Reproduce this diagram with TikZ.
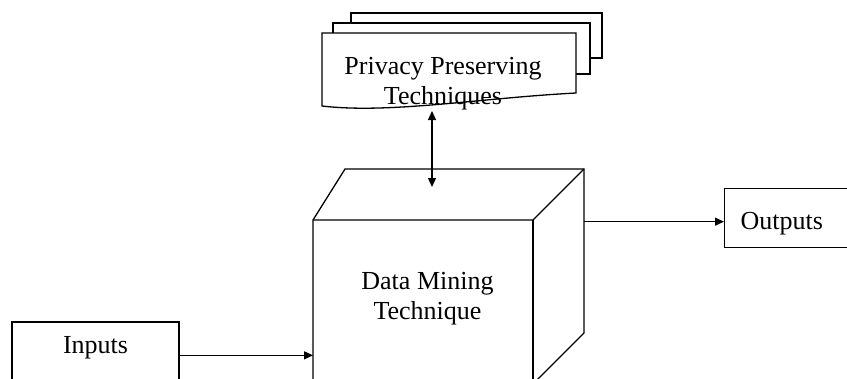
\documentclass[tikz,border=0pt]{standalone}
\usepackage{fontspec}
\setmainfont{Liberation Serif}
\usetikzlibrary{arrows.meta,calc}
\begin{document}
\begin{tikzpicture}[x=1pt,y=-1pt,
  line/.style={line width=1.3pt, draw=black},
  doc/.style={line, fill=white},
  txt/.style={font=\fontsize{26}{30}\selectfont, align=center, inner sep=0pt},
  arr/.style={line, -{Triangle[length=9pt,width=8pt]}},
  darr/.style={line, {Triangle[length=9pt,width=8pt]}-{Triangle[length=9pt,width=8pt]}}]
\useasboundingbox (0,0) rectangle (847,378);
\fill[white] (0,0) rectangle (847,378);
% privacy preserving stack
\draw[doc] (351,13) rectangle (602,58);
\draw[doc] (333,23) rectangle (590,74);
\draw[doc] (322,33) -- (576,33) -- (576,93) .. controls (480,98) and (390,114) .. (322,106) -- cycle;
\node[txt] (pp) at (443,84) {Privacy Preserving\\Techniques};
% cube
\coordinate (fl) at (313,220);
\coordinate (fr) at (533,220);
\coordinate (bl) at (345,169);
\coordinate (br) at (584,169);
\coordinate (brb) at (584,333);
\coordinate (frb) at (533,384);
\coordinate (flb) at (313,400);
\coordinate (frbb) at (533,400);
\draw[line, line join=miter] (flb) -- (fl) -- (bl) -- (br) -- (brb) -- (frb);
\draw[line] (fl) -- (fr) -- (br);
\draw[line] (fr) -- (frbb);
\node[txt] (dm) at (427.5,299) {Data Mining\\Technique};
% inputs
\node[line, font=\fontsize{26}{30}\selectfont, inner sep=0pt, text height=31pt, text depth=60pt,
      minimum width=167pt, anchor=base] (inputs) at (95.5,353) {Inputs};
% outputs
\node[line, font=\fontsize{26}{30}\selectfont, inner ysep=0pt, inner xsep=16pt, text height=41pt, text depth=18pt,
      text width=110pt, align=left, anchor=north west] (outputs) at (724,188) {Outputs};
% connectors
\coordinate (ppb) at (432,111);
\coordinate (ctop) at (432,187);
\draw[darr] (ppb) -- (ctop);
\coordinate (inend) at ([yshift=-34pt]inputs.north east);
\draw[arr] (inend) -- (inend -| fl);
\coordinate (outend) at ([yshift=-3.5pt]outputs.west);
\draw[arr] (outend -| br) -- (outend);
\end{tikzpicture}
\end{document}
